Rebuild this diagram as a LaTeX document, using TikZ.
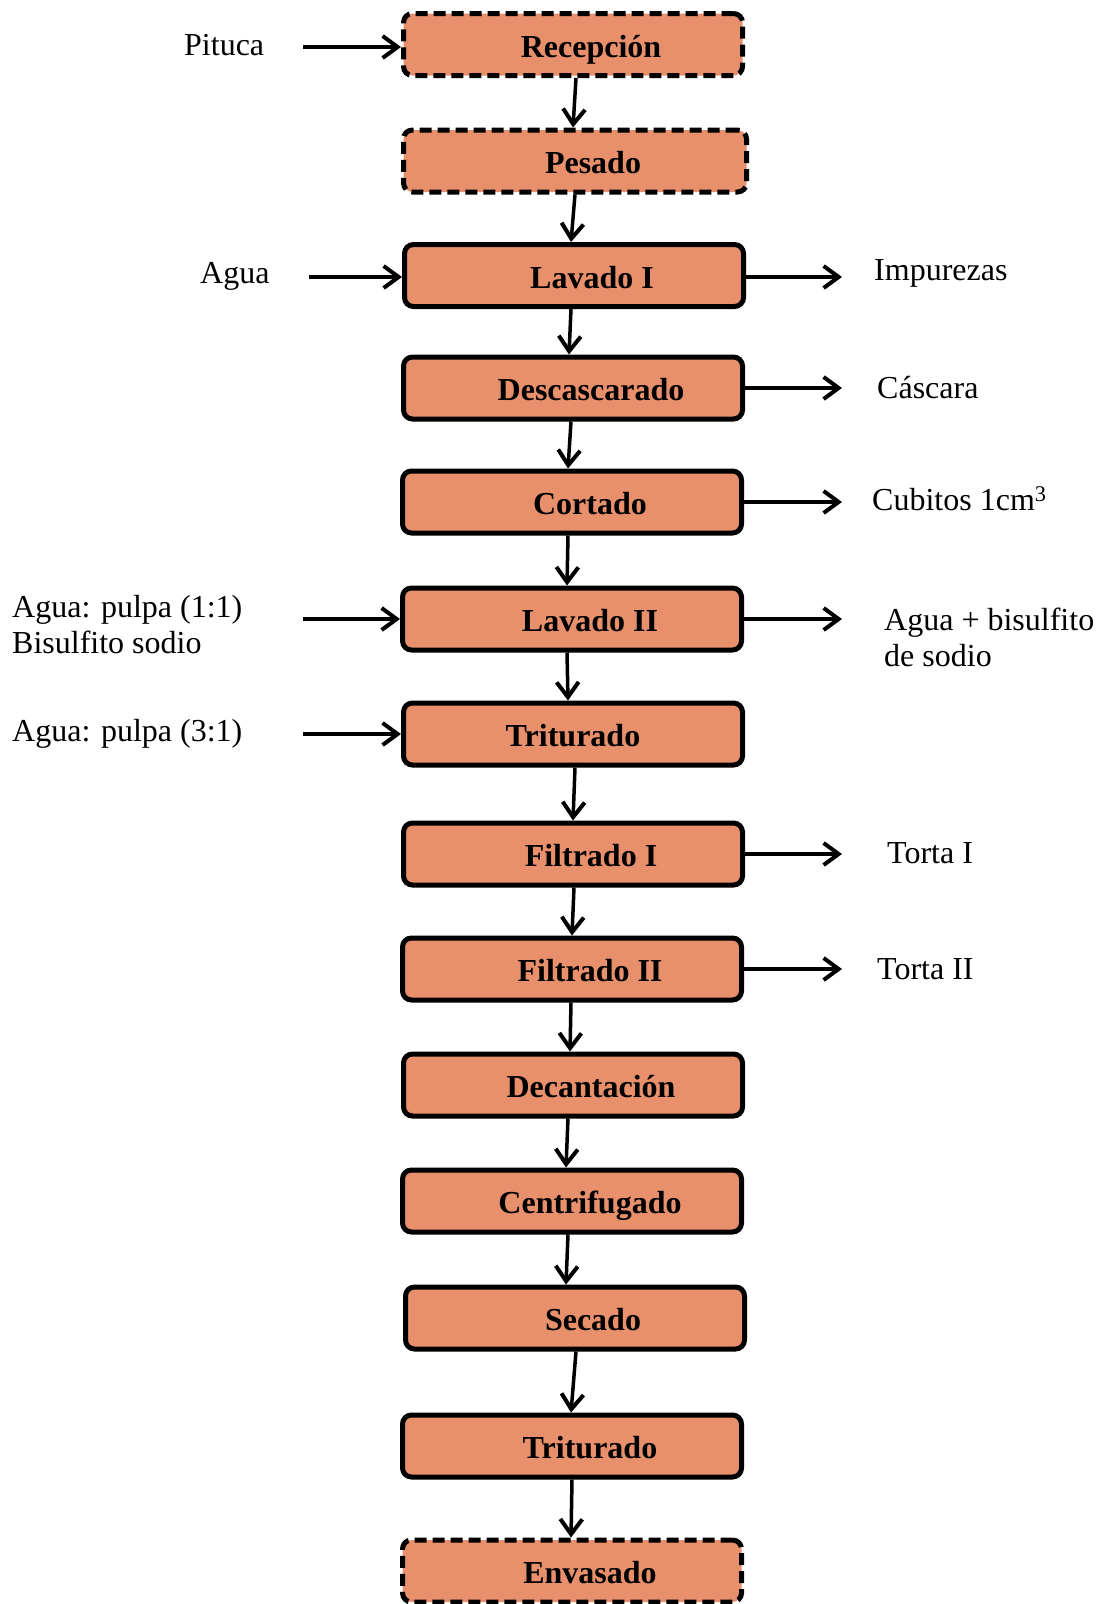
\documentclass[tikz,border=0pt]{standalone}
\usepackage{fontspec}
\setmainfont{Liberation Serif}
\usetikzlibrary{arrows.meta}
\definecolor{boxfill}{RGB}{232,143,107}
\tikzset{
  proc/.style={draw=black, line width=5pt, rounded corners=9pt, fill=boxfill,
    minimum width=339pt, minimum height=62pt, inner sep=0pt,
    text height=30pt, text depth=5pt,
    font=\fontsize{32}{36}\selectfont\bfseries},
  dproc/.style={proc, dash pattern=on 12pt off 6pt},
  lbl/.style={anchor=west, inner sep=0pt, align=left, font=\fontsize{32}{36}\selectfont},
  arr/.style={line width=3.5pt, -{Straight Barb[length=15pt,width=22pt,line width=4pt]}},
}
\newcommand{\off}{\hspace*{36pt}}
\begin{document}
\begin{tikzpicture}[x=1pt,y=-1pt]
\useasboundingbox (0,0) rectangle (1106,1604);
% process boxes
\node[dproc] (rec) at (573,44.5) {\off Recepción};
\node[dproc, minimum width=343pt] (pes) at (575,161) {\off Pesado};
\node[proc] (lav1) at (574,275.5) {\off Lavado I};
\node[proc] (des) at (573,388) {\off Descascarado};
\node[proc] (cor) at (572,502) {\off Cortado};
\node[proc] (lav2) at (572,619) {\off Lavado II};
\node[proc] (tri1) at (573,734) {Triturado};
\node[proc] (fil1) at (573,854) {\off Filtrado I};
\node[proc] (fil2) at (572,969) {\off Filtrado II};
\node[proc] (dec) at (573,1085) {\off Decantación};
\node[proc] (cen) at (572,1201) {\off Centrifugado};
\node[proc] (sec) at (575,1318) {\off Secado};
\node[proc] (tri2) at (572,1446) {\off Triturado};
\node[dproc] (env) at (572,1571) {\off Envasado};
% vertical flow
\draw[arr] ([xshift=3pt]rec.south) -- ([xshift=-2pt]pes.north);
\draw[arr] ([xshift=0pt]pes.south) -- ([xshift=-3pt]lav1.north);
\draw[arr] ([xshift=-3pt]lav1.south) -- ([xshift=-4pt]des.north);
\draw[arr] ([xshift=-2pt]des.south) -- ([xshift=-4pt]cor.north);
\draw[arr] ([xshift=-4pt]cor.south) -- ([xshift=-5pt]lav2.north);
\draw[arr] ([xshift=-5pt]lav2.south) -- ([xshift=-5pt]tri1.north);
\draw[arr] ([xshift=2pt]tri1.south) -- ([xshift=0pt]fil1.north);
\draw[arr] ([xshift=1pt]fil1.south) -- ([xshift=0pt]fil2.north);
\draw[arr] ([xshift=-1pt]fil2.south) -- ([xshift=-3pt]dec.north);
\draw[arr] ([xshift=-5pt]dec.south) -- ([xshift=-6pt]cen.north);
\draw[arr] ([xshift=-4pt]cen.south) -- ([xshift=-9pt]sec.north);
\draw[arr] ([xshift=1pt]sec.south) -- ([xshift=-1pt]tri2.north);
\draw[arr] ([xshift=0pt]tri2.south) -- ([xshift=-1pt]env.north);
% inputs
\node[lbl] (pit) at (184,45) {Pituca};
\coordinate (pitS) at (303,47);
\draw[arr] (pitS) -- (pitS -| rec.west);
\node[lbl] (agu) at (200,276) {Agua};
\coordinate (aguS) at (309,277);
\draw[arr] (aguS) -- (aguS -| lav1.west);
\node[lbl] (ap1) at (12,625) {Agua: pulpa (1:1)\\Bisulfito sodio};
\coordinate (ap1S) at (303,619);
\draw[arr] (ap1S) -- (ap1S -| lav2.west);
\node[lbl] (ap3) at (12,734) {Agua: pulpa (3:1)};
\coordinate (ap3S) at (303,734);
\draw[arr] (ap3S) -- (ap3S -| tri1.west);
% outputs
\node[lbl] (imp) at (874,273) {Impurezas};
\coordinate (impE) at (842,277);
\draw[arr] (lav1.east |- impE) -- (impE);
\node[lbl] (cas) at (877,388) {Cáscara};
\coordinate (casE) at (842,388);
\draw[arr] (des.east |- casE) -- (casE);
\node[lbl] (cub) at (872,499) {Cubitos 1cm\textsuperscript{3}};
\coordinate (cubE) at (842,502);
\draw[arr] (cor.east |- cubE) -- (cubE);
\node[lbl] (abs) at (884,637) {Agua + bisulfito\\de sodio};
\coordinate (absE) at (842,619);
\draw[arr] (lav2.east |- absE) -- (absE);
\node[lbl] (tor1) at (887,853) {Torta I};
\coordinate (tor1E) at (842,854);
\draw[arr] (fil1.east |- tor1E) -- (tor1E);
\node[lbl] (tor2) at (877,969) {Torta II};
\coordinate (tor2E) at (842,969);
\draw[arr] (fil2.east |- tor2E) -- (tor2E);
\end{tikzpicture}
\end{document}
